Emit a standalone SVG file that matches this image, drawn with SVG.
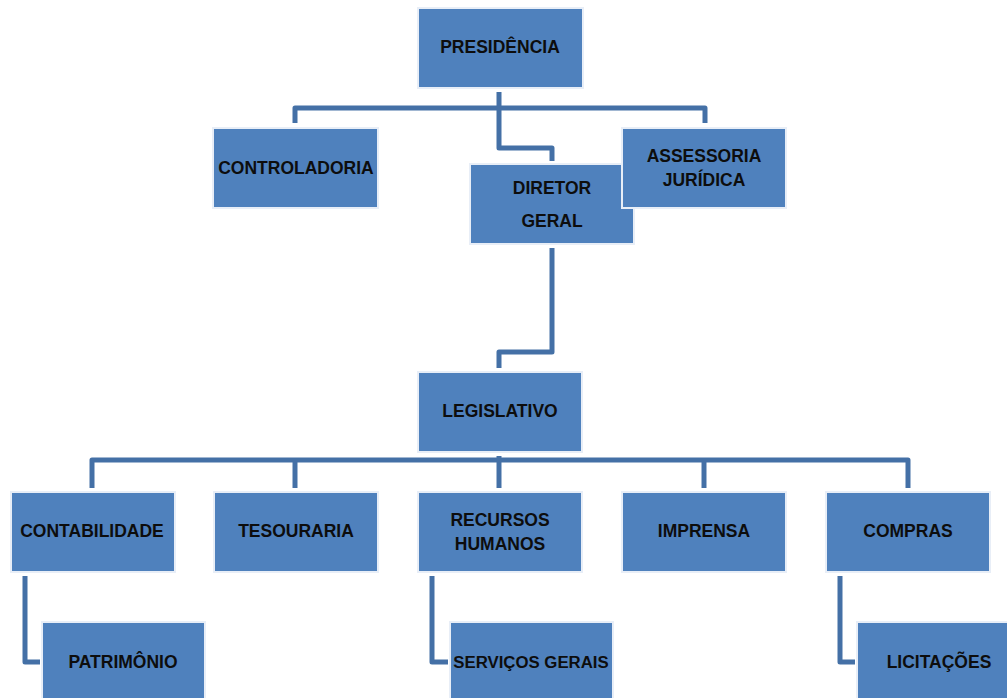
<svg xmlns="http://www.w3.org/2000/svg" width="1007" height="698" viewBox="0 0 1007 698">
<style>
.box{fill:#4F81BD;stroke:#E8EEF7;stroke-width:2}
.t{font-family:"Liberation Sans",Arial,sans-serif;font-weight:bold;font-size:17.5px;fill:#0d0d0d;text-anchor:middle;dominant-baseline:central}
.c{fill:none;stroke:#4470A6;stroke-width:5;stroke-linejoin:round;stroke-linecap:butt}
</style>
<rect width="1007" height="698" fill="#fff"/>
<g id="connectors">
<path class="c" d="M499 92 V148 H552 V161"/>
<path class="c" d="M295 123 V108 H705 V123"/>
<path class="c" d="M552 248 V352 H499 V368"/>
<path class="c" d="M499 456 V488"/>
<path class="c" d="M92 488 V460 H908 V488"/>
<path class="c" d="M295 460 V488"/>
<path class="c" d="M704 460 V488"/>
<path class="c" d="M25 576 V662 H40"/>
<path class="c" d="M432 576 V662 H448"/>
<path class="c" d="M840 576 V662 H855"/>
</g>
<g id="presidencia"><rect class="box" x="418" y="8" width="165" height="80"/><text class="t" x="500" y="47">PRESIDÊNCIA</text></g>
<g id="controladoria"><rect class="box" x="213" y="128" width="165" height="80"/><text class="t" x="296" y="168">CONTROLADORIA</text></g>
<g id="diretor"><rect class="box" x="470" y="164" width="164" height="80"/><text class="t" x="552" y="188">DIRETOR</text><text class="t" x="552" y="221">GERAL</text></g>
<g id="assessoria"><rect class="box" x="622" y="128" width="164" height="80"/><text class="t" x="704" y="156">ASSESSORIA</text><text class="t" x="704" y="180">JURÍDICA</text></g>
<g id="legislativo"><rect class="box" x="418" y="372" width="164" height="80"/><text class="t" x="500" y="411">LEGISLATIVO</text></g>
<g id="contabilidade"><rect class="box" x="11" y="492" width="164" height="80"/><text class="t" x="92" y="531">CONTABILIDADE</text></g>
<g id="tesouraria"><rect class="box" x="214" y="492" width="164" height="80"/><text class="t" x="296" y="531">TESOURARIA</text></g>
<g id="rh"><rect class="box" x="418" y="492" width="164" height="80"/><text class="t" x="500" y="520">RECURSOS</text><text class="t" x="500" y="544">HUMANOS</text></g>
<g id="imprensa"><rect class="box" x="622" y="492" width="164" height="80"/><text class="t" x="704" y="531">IMPRENSA</text></g>
<g id="compras"><rect class="box" x="826" y="492" width="164" height="80"/><text class="t" x="908" y="531">COMPRAS</text></g>
<g id="patrimonio"><rect class="box" x="42" y="622" width="163" height="80"/><text class="t" x="123" y="662">PATRIMÔNIO</text></g>
<g id="servicos"><rect class="box" x="450" y="622" width="163" height="80"/><text class="t" x="531" y="662" style="font-size:16.8px">SERVIÇOS GERAIS</text></g>
<g id="licitacoes"><rect class="box" x="857" y="622" width="163" height="80"/><text class="t" x="939" y="662">LICITAÇÕES</text></g>
</svg>
